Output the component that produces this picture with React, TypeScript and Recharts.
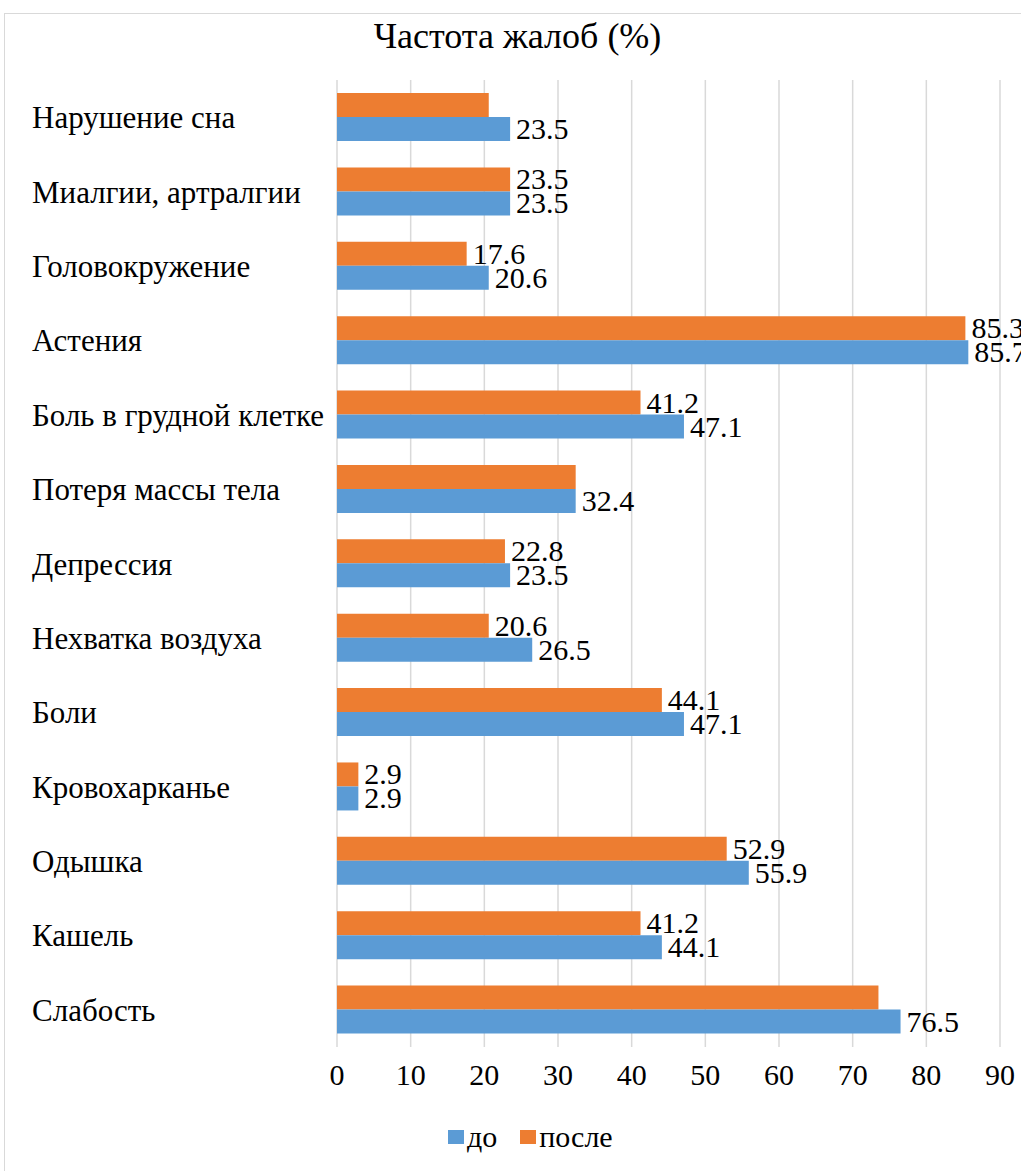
import React from 'react';
import { BarChart, Bar, XAxis, YAxis, CartesianGrid, LabelList } from 'recharts';

const categories = [
  'Нарушение сна',
  'Миалгии, артралгии',
  'Головокружение',
  'Астения',
  'Боль в грудной клетке',
  'Потеря массы тела',
  'Депрессия',
  'Нехватка воздуха',
  'Боли',
  'Кровохарканье',
  'Одышка',
  'Кашель',
  'Слабость',
];

const before = [23.5, 23.5, 20.6, 85.7, 47.1, 32.4, 23.5, 26.5, 47.1, 2.9, 55.9, 44.1, 76.5];
const after = [20.6, 23.5, 17.6, 85.3, 41.2, 32.4, 22.8, 20.6, 44.1, 2.9, 52.9, 41.2, 73.5];
// labels on "после" bars that were deleted in the original chart
const afterLabelHidden = [true, false, false, false, false, true, false, false, false, false, false, false, true];

const xTicks = [0, 10, 20, 30, 40, 50, 60, 70, 80, 90];

const BLUE = '#5b9bd5';
const ORANGE = '#ed7d31';

const data = categories.map((name, i) => ({ name, before: before[i], after: after[i] }));

const CategoryTick = (props: any) => {
  const { y, payload } = props;
  return (
    <text x={32} y={y} dy={11} textAnchor="start" fontSize={31} fill="#000">
      {payload.value}
    </text>
  );
};

const ValueTick = (props: any) => {
  const { x, y, payload } = props;
  return (
    <text x={x} y={y} dy={30} textAnchor="middle" fontSize={30} fill="#000">
      {payload.value}
    </text>
  );
};

const makeLabel = (hidden?: boolean[]) => (props: any) => {
  const { x, y, width, height, value, index } = props;
  if (hidden && hidden[index]) return null;
  return (
    <text x={x + width + 6} y={y + height / 2} dy={10} textAnchor="start" fontSize={30} fill="#000">
      {value}
    </text>
  );
};

export default function App() {
  return (
    <div style={{ position: 'absolute', left: 0, top: 0, width: 1021, height: 1171, overflow: 'hidden', background: '#fff' }}>
      <div style={{ position: 'absolute', left: 4, top: 13, width: 1100, height: 1200, border: '1px solid #d9d9d9' }} />
      <div
        style={{
          position: 'absolute',
          left: 0,
          top: 15,
          width: 1021,
          textAlign: 'center',
          fontSize: 36,
          color: '#000',
          paddingLeft: 14,
          boxSizing: 'border-box',
        }}
      >
        Частота жалоб (%)
      </div>
      <div style={{ position: 'absolute', left: 0, top: 0 }}>
        <BarChart
          width={1021}
          height={1100}
          data={data}
          layout="vertical"
          margin={{ top: 80, right: 21, bottom: 0, left: 0 }}
          barGap={0}
          barSize={24}
        >
          <CartesianGrid horizontal={false} stroke="#d9d9d9" strokeWidth={1.5} />
          <XAxis
            type="number"
            domain={[0, 90]}
            ticks={xTicks}
            axisLine={false}
            tickLine={false}
            tick={<ValueTick />}
            height={53}
          />
          <YAxis
            type="category"
            dataKey="name"
            width={337}
            axisLine={false}
            tickLine={false}
            tick={<CategoryTick />}
            interval={0}
          />
          <Bar dataKey="after" fill={ORANGE} isAnimationActive={false}>
            <LabelList dataKey="after" content={makeLabel(afterLabelHidden)} />
          </Bar>
          <Bar dataKey="before" fill={BLUE} isAnimationActive={false}>
            <LabelList dataKey="before" content={makeLabel()} />
          </Bar>
        </BarChart>
      </div>
      <div
        style={{
          position: 'absolute',
          left: 448,
          top: 1120,
          display: 'flex',
          alignItems: 'center',
          fontSize: 30,
          color: '#000',
        }}
      >
        <span style={{ width: 16, height: 14, background: BLUE, display: 'inline-block', marginRight: 3 }} />
        <span style={{ marginRight: 23 }}>до</span>
        <span style={{ width: 16, height: 14, background: ORANGE, display: 'inline-block', marginRight: 3 }} />
        <span>после</span>
      </div>
    </div>
  );
}
